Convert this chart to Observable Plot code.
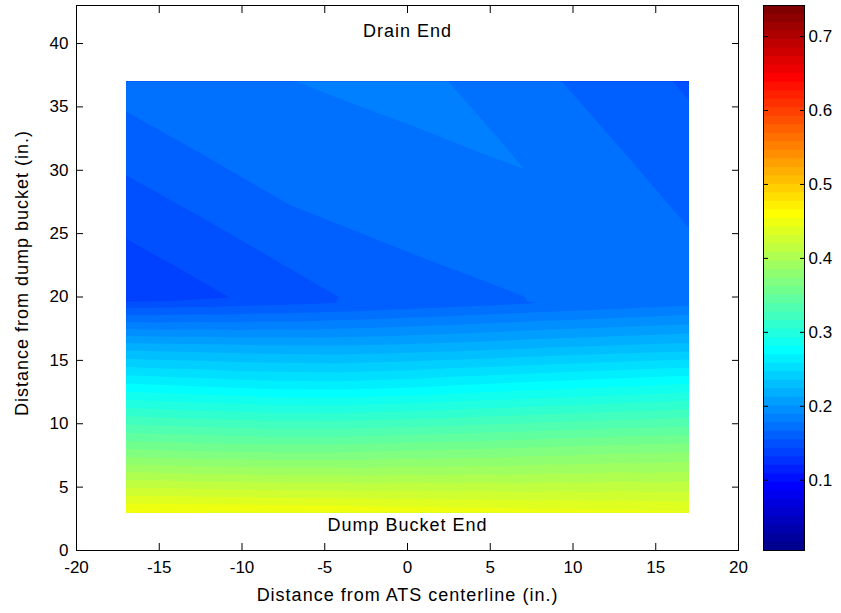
<!DOCTYPE html>
<html>
<head>
<meta charset="utf-8">
<script src="https://cdn.jsdelivr.net/npm/d3@7"></script>
<script src="https://cdn.jsdelivr.net/npm/@observablehq/plot@0.6"></script>
<style>
  html, body { margin: 0; padding: 0; background: #fff; }
  #chart { position: relative; width: 841px; height: 613px; overflow: hidden; background: #fff; }
  #chart svg { position: absolute; top: 0; overflow: visible; }
  #chart g[aria-label="text"] text { letter-spacing: 1px; }
</style>
</head>
<body>
<div id="chart"></div>
<script>
// ---------------- data ----------------
const xPositions = [-17, -12.75, -8.5, -4.25, 0, 4.25, 8.5, 12.75, 17];
const yPositions = [3, 8, 13, 16, 19.5, 20, 24.25, 28.5, 32.75, 37];
// tiny per-row x shift of interior columns so the sample triangulation is unambiguous
const rowShift = 0.02;

const row_y3     = [0.456, 0.455, 0.454, 0.453, 0.451, 0.449, 0.447, 0.446, 0.444];
const row_y8     = [0.362, 0.359, 0.357, 0.357, 0.360, 0.362, 0.365, 0.368, 0.370];
const row_y13    = [0.273, 0.269, 0.265, 0.264, 0.267, 0.272, 0.276, 0.280, 0.284];
const row_y16    = [0.220, 0.218, 0.216, 0.215, 0.217, 0.220, 0.224, 0.227, 0.230];
const row_y19_5  = [0.147, 0.149, 0.152, 0.155, 0.159, 0.163, 0.167, 0.171, 0.175];
const row_y20    = [0.1326, 0.1400, 0.1473, 0.1547, 0.1620, 0.1646, 0.1671, 0.1695, 0.1720];
const row_y24_25 = [0.1424, 0.1497, 0.1571, 0.1645, 0.1671, 0.1695, 0.1720, 0.1744, 0.1676];
const row_y28_5  = [0.1522, 0.1595, 0.1669, 0.1695, 0.1720, 0.1744, 0.1768, 0.1699, 0.1627];
const row_y32_75 = [0.1619, 0.1693, 0.1720, 0.1744, 0.1768, 0.1793, 0.1721, 0.1650, 0.1579];
const row_y37    = [0.1717, 0.1744, 0.1768, 0.1793, 0.1816, 0.1744, 0.1673, 0.1602, 0.1530];
const valueRows = [row_y3, row_y8, row_y13, row_y16, row_y19_5, row_y20, row_y24_25, row_y28_5, row_y32_75, row_y37];

const colorDomain = [0.005, 0.742];
const levelCount = 64;

const xTickValues = [-20, -15, -10, -5, 0, 5, 10, 15, 20];
const yTickValues = [0, 5, 10, 15, 20, 25, 30, 35, 40];
const colorTickValues = [0.1, 0.2, 0.3, 0.4, 0.5, 0.6, 0.7];

const annotations = [
  {label: "Drain End", x: 0, y: 41},
  {label: "Dump Bucket End", x: 0, y: 2}
];
const xTitle = "Distance from ATS centerline (in.)";
const yTitle = "Distance from dump bucket (in.)";

// ---------------- MATLAB jet(64) colormap ----------------
function jet64(t) {
  const i = Math.max(0, Math.min(63, Math.floor(t * 64 + 1e-9))) + 1;
  const u = k => (k < 1 || k > 47) ? 0 : k <= 16 ? k / 16 : k <= 31 ? 1 : (48 - k) / 16;
  const r = u(i - 24), g = u(i - 8), b = u(i + 8);
  return `rgb(${Math.round(r * 255)},${Math.round(g * 255)},${Math.round(b * 255)})`;
}

// ---------------- build ----------------
const lastCol = xPositions.length - 1;
const samples = yPositions.flatMap((y, j) =>
  xPositions.map((x, i) => ({
    x: (i > 0 && i < lastCol) ? x + rowShift * j : x,
    y,
    value: valueRows[j][i]
  })));
const thresholds = d3.range(levelCount).map(k => colorDomain[0] + (colorDomain[1] - colorDomain[0]) * k / levelCount);
const font = "'Liberation Sans', Arial, Helvetica, sans-serif";
const fmt = d => String(d);
const baseStyle = {fontFamily: font, fontSize: "17px", color: "black", background: "transparent", overflow: "visible"};

const main = Plot.plot({
  width: 760, height: 613,
  marginLeft: 76, marginRight: 22, marginTop: 5, marginBottom: 63,
  style: baseStyle,
  x: {domain: [-20, 20]},
  y: {domain: [0, 43]},
  color: {type: "linear", domain: colorDomain, interpolate: jet64},
  marks: [
    Plot.contour(samples, {
      x: "x", y: "y", fill: "value", thresholds,
      interpolate: "barycentric",
      x1: d3.min(xPositions), x2: d3.max(xPositions),
      y1: d3.min(yPositions), y2: d3.max(yPositions),
      pixelSize: 1, stroke: "none"
    }),
    Plot.frame({stroke: "black"}),
    Plot.axisX(xTickValues, {anchor: "bottom", tickSize: -7, tickPadding: 17, tickFormat: fmt, label: null}),
    Plot.axisX(xTickValues, {anchor: "top", tickSize: -7, fill: "none", tickFormat: () => "", label: null}),
    Plot.axisY(yTickValues, {anchor: "left", tickSize: -7, tickPadding: 15, tickFormat: fmt, label: null}),
    Plot.axisY(yTickValues, {anchor: "right", tickSize: -7, fill: "none", tickFormat: () => "", label: null}),
    Plot.text(annotations, {x: "x", y: "y", text: "label", fill: "black", fontSize: 18}),
    Plot.text([xTitle], {frameAnchor: "bottom", dy: 45, lineAnchor: "middle", textAnchor: "middle", text: d => d, fill: "black", fontSize: 18}),
    Plot.text([yTitle], {frameAnchor: "left", dx: -54, dy: -5, rotate: -90, lineAnchor: "middle", textAnchor: "middle", text: d => d, fill: "black", fontSize: 18})
  ]
});
main.style.left = "0px";

const bands = thresholds.map(lo => ({lo}));
const bar = Plot.plot({
  width: 81, height: 613,
  marginLeft: 3, marginRight: 37, marginTop: 5, marginBottom: 63,
  style: baseStyle,
  y: {domain: colorDomain},
  color: {type: "linear", domain: colorDomain, interpolate: jet64},
  marks: [
    Plot.rect(bands, {y1: "lo", y2: () => colorDomain[1], fill: "lo"}),
    Plot.frame({stroke: "black"}),
    Plot.axisY(colorTickValues, {anchor: "right", tickSize: -5, tickPadding: 9, tickFormat: d => d.toFixed(1), label: null}),
    Plot.axisY(colorTickValues, {anchor: "left", tickSize: -5, fill: "none", tickFormat: () => "", label: null})
  ]
});
bar.style.left = "760px";

document.getElementById("chart").append(main, bar);
</script>
</body>
</html>
